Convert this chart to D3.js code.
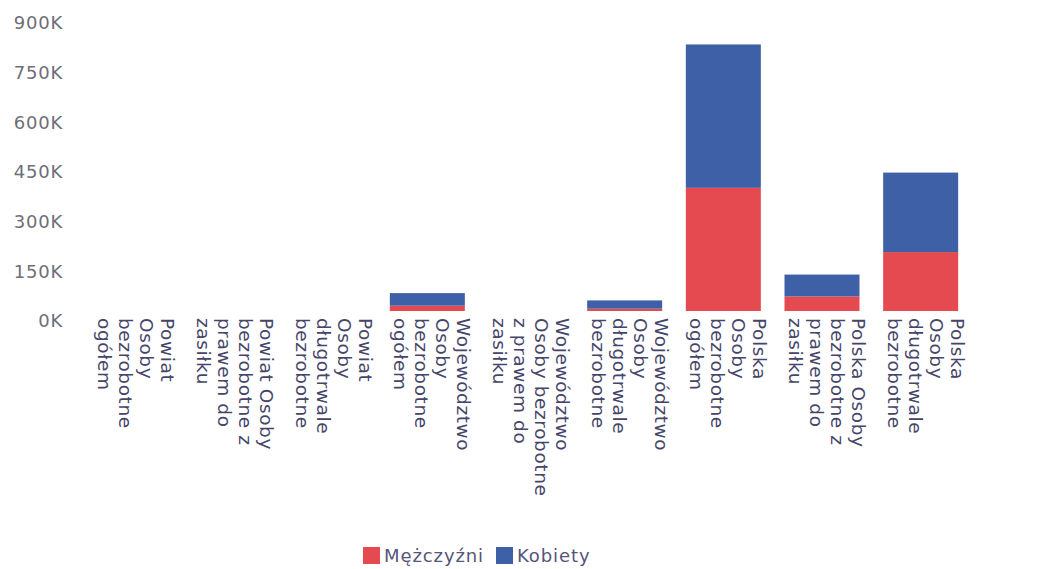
<!DOCTYPE html>
<html>
<head>
<meta charset="utf-8">
<script src="https://cdn.jsdelivr.net/npm/d3@7"></script>
<style>
  html, body { margin: 0; padding: 0; background: #fff; }
  svg { display: block; font-family: "DejaVu Sans", sans-serif; }
</style>
</head>
<body>
<svg id="chart" width="1059" height="569"></svg>
<script>
// ---- data ----
const categoryLines = [
  ["Powiat", "Osoby", "bezrobotne", "ogółem"],
  ["Powiat Osoby", "bezrobotne z", "prawem do", "zasiłku"],
  ["Powiat", "Osoby", "długotrwale", "bezrobotne"],
  ["Województwo", "Osoby", "bezrobotne", "ogółem"],
  ["Województwo", "Osoby bezrobotne", "z prawem do", "zasiłku"],
  ["Województwo", "Osoby", "długotrwale", "bezrobotne"],
  ["Polska", "Osoby", "bezrobotne", "ogółem"],
  ["Polska Osoby", "bezrobotne z", "prawem do", "zasiłku"],
  ["Polska", "Osoby", "długotrwale", "bezrobotne"]
];
const categories = categoryLines.map(l => l.join(" "));
const men   = [0, 0, 0, 16000, 0, 7000, 372000, 44000, 178000];
const women = [0, 0, 0, 38000, 0, 25000, 433000, 66000, 240000];
const seriesNames = ["Mężczyźni", "Kobiety"];
const seriesColors = ["#E44A4F", "#3D60A6"];
const yTicks = [0, 150000, 300000, 450000, 600000, 750000, 900000];

// ---- build ----
const rows = categories.map((c, i) => ({ cat: c, m: men[i], k: women[i] }));
const stack = d3.stack().keys(["m", "k"])(rows);

const svg = d3.select("#chart");
const x = d3.scaleBand().domain(categories).range([82, 970]).paddingInner(0.24).paddingOuter(0.12);
const y = d3.scaleLinear().domain([0, 900000]).range([311, 13]);

// y axis labels
const yAxis = d3.axisLeft(y).tickValues(yTicks).tickSize(0).tickPadding(0)
  .tickFormat(d => (d / 1000) + "K");
const gy = svg.append("g").attr("transform", "translate(63,0)").call(yAxis);
gy.select(".domain").remove();
gy.selectAll("text")
  .attr("dy", "0.32em")
  .attr("y", 10)
  .style("font-size", "18px")
  .style("letter-spacing", "0.8px")
  .style("fill", "#6e6e78")
  .style("font-family", "DejaVu Sans, sans-serif");

// bars
svg.append("g").selectAll("g").data(stack).join("g")
  .attr("fill", (d, i) => seriesColors[i])
  .selectAll("rect").data(d => d).join("rect")
  .attr("x", d => x(d.data.cat))
  .attr("width", x.bandwidth())
  .attr("y", d => y(d[1]))
  .attr("height", d => Math.max(0, y(d[0]) - y(d[1])));

// x labels (rotated)
const lineGap = 21;
const xl = svg.append("g").selectAll("text").data(categories).join("text")
  .attr("transform", d => `translate(${x(d) + x.bandwidth() / 2 + 5},318) rotate(90)`)
  .style("font-size", "18.5px")
  .style("letter-spacing", "0.6px")
  .style("fill", "#45456a");
xl.each(function(d, i) {
  const lines = categoryLines[i];
  const n = lines.length;
  d3.select(this).selectAll("tspan").data(lines).join("tspan")
    .attr("x", 0)
    .attr("y", (l, j) => (j - (n - 1) / 2) * lineGap)
    .attr("dy", "0.35em")
    .text(l => l);
});

// legend
const legend = svg.append("g");
const legendItems = [
  { name: seriesNames[0], color: seriesColors[0], x: 363 },
  { name: seriesNames[1], color: seriesColors[1], x: 496 }
];
legendItems.forEach(it => {
  legend.append("rect").attr("x", it.x).attr("y", 547).attr("width", 17).attr("height", 17).attr("fill", it.color);
  legend.append("text").attr("x", it.x + 21).attr("y", 556).attr("dy", "0.35em")
    .style("font-size", "18px").style("letter-spacing", "0.9px").style("fill", "#55557a")
    .text(it.name);
});
</script>
</body>
</html>
